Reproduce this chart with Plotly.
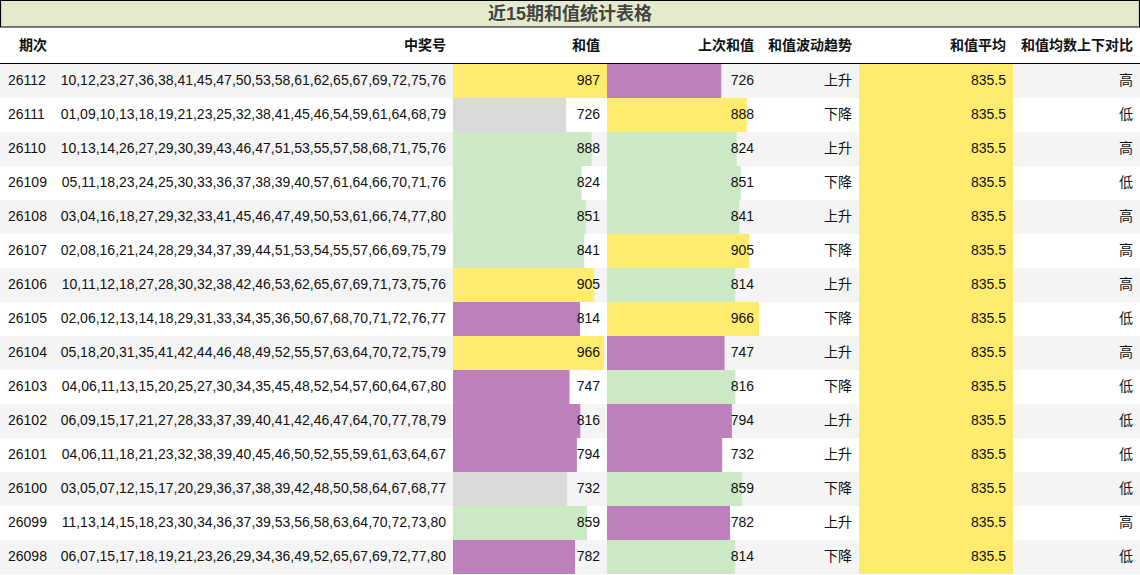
import plotly.graph_objects as go

periods = ["26112","26111","26110","26109","26108","26107","26106","26105","26104","26103","26102","26101","26100","26099","26098"]
numbers = [
"10,12,23,27,36,38,41,45,47,50,53,58,61,62,65,67,69,72,75,76",
"01,09,10,13,18,19,21,23,25,32,38,41,45,46,54,59,61,64,68,79",
"10,13,14,26,27,29,30,39,43,46,47,51,53,55,57,58,68,71,75,76",
"05,11,18,23,24,25,30,33,36,37,38,39,40,57,61,64,66,70,71,76",
"03,04,16,18,27,29,32,33,41,45,46,47,49,50,53,61,66,74,77,80",
"02,08,16,21,24,28,29,34,37,39,44,51,53,54,55,57,66,69,75,79",
"10,11,12,18,27,28,30,32,38,42,46,53,62,65,67,69,71,73,75,76",
"02,06,12,13,14,18,29,31,33,34,35,36,50,67,68,70,71,72,76,77",
"05,18,20,31,35,41,42,44,46,48,49,52,55,57,63,64,70,72,75,79",
"04,06,11,13,15,20,25,27,30,34,35,45,48,52,54,57,60,64,67,80",
"06,09,15,17,21,27,28,33,37,39,40,41,42,46,47,64,70,77,78,79",
"04,06,11,18,21,23,32,38,39,40,45,46,50,52,55,59,61,63,64,67",
"03,05,07,12,15,17,20,29,36,37,38,39,42,48,50,58,64,67,68,77",
"11,13,14,15,18,23,30,34,36,37,39,53,56,58,63,64,70,72,73,80",
"06,07,15,17,18,19,21,23,26,29,34,36,49,52,65,67,69,72,77,80",
]
sums = [987,726,888,824,851,841,905,814,966,747,816,794,732,859,782]
prev_sums = [726,888,824,851,841,905,814,966,747,816,794,732,859,782,814]
trend = ["上升","下降","上升","下降","上升","下降","上升","下降","上升","下降","上升","上升","下降","上升","下降"]
avg = [835.5]*15
compare = ["高","低","高","低","高","高","高","低","高","低","低","低","低","高","低"]
sum_cls = ["Y","Gy","G","G","G","G","Y","P","Y","P","P","P","Gy","G","P"]
prev_cls = ["P","Y","G","G","G","Y","G","Y","P","G","P","P","G","P","G"]
headers = ["期次","中奖号","和值","上次和值","和值波动趋势","和值平均","和值均数上下对比"]
title = "近15期和值统计表格"

PAL = {"Y":"#ffeb6e","Gy":"#d9d9d9","G":"#cce8c5","P":"#be80bc"}
W, H = 1140, 575
ROW0, RH = 64, 34
ycent = [ROW0 + RH*i + RH/2 for i in range(len(periods))]
FONT = "Liberation Sans, Noto Sans CJK SC, sans-serif"

cols = [0, 55, 453, 607, 759, 859, 1013, 1140]
rights = [47, 446, 600, 754, 852, 1006, 1133]

fig = go.Figure()
shapes = []
for i, yc in enumerate(ycent):
    if i % 2 == 0:
        shapes.append(dict(type="rect", xref="x", yref="y", x0=0, x1=W, y0=yc-RH/2, y1=yc+RH/2,
                           fillcolor="#f4f4f4", line_width=0, layer="below"))
shapes.append(dict(type="rect", xref="x", yref="y", x0=0.5, x1=W-0.5, y0=0.5, y1=27,
                   fillcolor="#e3ebcc", line=dict(color="black", width=1.2), layer="below"))
shapes.append(dict(type="line", xref="x", yref="y", x0=0, x1=W, y0=63.5, y1=63.5,
                   line=dict(color="black", width=1.2), layer="below"))

def bars(vals, cls, axis):
    fig.add_trace(go.Bar(x=vals, y=ycent, orientation="h", width=RH, xaxis=axis, yaxis="y",
                         marker=dict(color=[PAL[c] for c in cls], line_width=0),
                         hoverinfo="skip", showlegend=False))

bars(sums, sum_cls, "x2")
bars(prev_sums, prev_cls, "x3")
bars(avg, ["Y"]*15, "x4")

def txt(xs, ys, texts, pos, size=14, color="#111", bold=False):
    fig.add_trace(go.Scatter(x=xs, y=ys, mode="text", text=[f"<b>{t}</b>" if bold else t for t in texts],
                             textposition=pos, textfont=dict(family=FONT, size=size, color=color),
                             xaxis="x5", yaxis="y", hoverinfo="skip", showlegend=False))

n = len(periods)
txt([8]*n, ycent, periods, "middle right")
txt([rights[1]]*n, ycent, numbers, "middle left")
txt([rights[2]]*n, ycent, [str(v) for v in sums], "middle left")
txt([rights[3]]*n, ycent, [str(v) for v in prev_sums], "middle left")
txt([rights[4]]*n, ycent, trend, "middle left")
txt([rights[5]]*n, ycent, [str(v) for v in avg], "middle left")
txt([rights[6]]*n, ycent, compare, "middle left")
txt(rights, [46]*7, headers, "middle left", bold=True)
txt([W/2], [15], [title], "middle center", size=18, color="#444", bold=True)

hid = dict(visible=False, showgrid=False, zeroline=False, fixedrange=True)
fig.update_layout(
    width=W, height=H, margin=dict(l=0, r=0, t=0, b=0),
    paper_bgcolor="white", plot_bgcolor="rgba(0,0,0,0)", barmode="overlay",
    xaxis=dict(range=[0, W], domain=[0, 1], anchor="y", **hid),
    yaxis=dict(range=[H, 0], domain=[0, 1], **hid),
    xaxis2=dict(range=[0, max(sums)], domain=[cols[2]/W, cols[3]/W], anchor="y", **hid),
    xaxis3=dict(range=[0, max(prev_sums)], domain=[cols[3]/W, cols[4]/W], anchor="y", **hid),
    xaxis4=dict(range=[0, max(avg)], domain=[cols[5]/W, cols[6]/W], anchor="y", **hid),
    xaxis5=dict(range=[0, W], domain=[0, 1], anchor="y", **hid),
    shapes=shapes,
)
fig.write_html("out.html", config={"displayModeBar": False},
               post_script="document.body.style.margin='0';document.body.style.overflow='hidden';")
